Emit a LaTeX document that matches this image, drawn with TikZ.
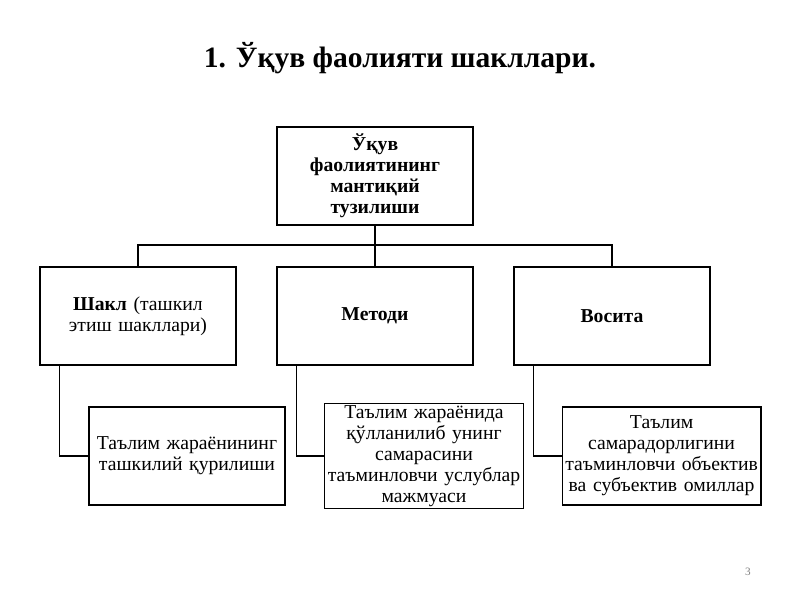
\documentclass[tikz,border=0pt]{standalone}
\usepackage{fontspec}
\setmainfont{Liberation Serif}
\usetikzlibrary{positioning, calc}
\tikzset{
  box/.style={draw, thick, minimum width=4.9cm, minimum height=2.45cm, align=center, text width=4.7cm, font=\fontsize{14}{15}\selectfont, inner sep=1pt},
  link/.style={thick}
}
\begin{document}
\begin{tikzpicture}
\useasboundingbox (0,0) rectangle (20,15);

% Title
\node[font=\fontsize{21}{24}\selectfont\bfseries] (title) at (10,13.55) {1. Ўқув фаолияти шакллари.};

% Top box
\node[box, font=\fontsize{14}{15}\selectfont\bfseries, text width=3.4cm] (top) at (9.375,10.6) {Ўқув\\фаолиятининг\\мантиқий\\тузилиши};

% Second level
\node[box] (shakl) at (3.45,7.1) {\textbf{Шакл} (ташкил\\этиш шакллари)};
\node[box, font=\fontsize{14}{15}\selectfont\bfseries] (metod) at (9.375,7.1) {Методи};
\node[box, font=\fontsize{14}{15}\selectfont\bfseries] (vosita) at (15.3,7.1) {Восита};

% Third level
\node[box] (sub1) at (4.675,3.6) {Таълим жараёнининг\\ташкилий қурилиши};
\node[box, text width=4.9cm] (sub2) at (10.6,3.6) {Таълим жараёнида\\қўлланилиб унинг\\самарасини\\таъминловчи услублар\\мажмуаси};
\node[box, text width=4.9cm] (sub3) at (16.54,3.6) {Таълим\\самарадорлигини\\таъминловчи объектив\\ва субъектив омиллар};

% Connectors
\coordinate (bus) at (9.375,8.875);
\draw[link] (top.south) -- (bus);
\draw[link] (bus) -- (metod.north);
\draw[link] (bus) -| (shakl.north);
\draw[link] (bus) -| (vosita.north);
\draw[link] ($(shakl.south west)+(0.5,0)$) |- (sub1.west);
\draw[link] ($(metod.south west)+(0.5,0)$) |- (sub2.west);
\draw[link] ($(vosita.south west)+(0.5,0)$) |- (sub3.west);

% Page number
\node[text=gray, font=\fontsize{8}{9}\selectfont] (page) at (18.7,0.7) {3};
\end{tikzpicture}
\end{document}
